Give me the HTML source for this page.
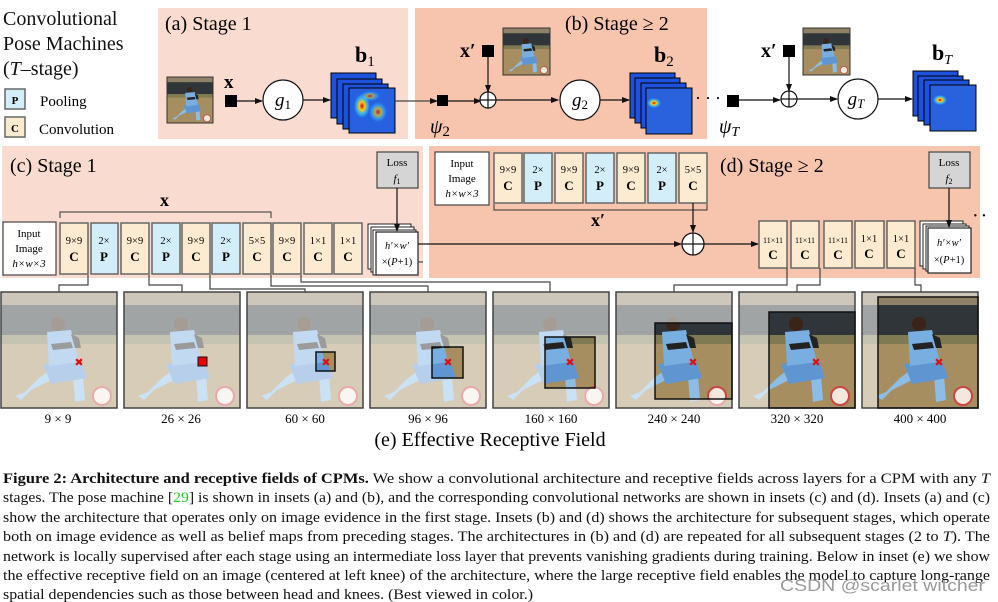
<!DOCTYPE html>
<html><head><meta charset="utf-8"><style>
html,body{margin:0;padding:0;background:#fff;}
svg{display:block;font-family:"Liberation Serif",serif;}
</style></head><body>
<svg width="998" height="602" viewBox="0 0 998 602" xmlns="http://www.w3.org/2000/svg">
<defs>
<marker id="ar" markerWidth="8" markerHeight="6" refX="7" refY="3" orient="auto" markerUnits="userSpaceOnUse"><path d="M0,0 L8,3 L0,6 z" fill="#111"/></marker>
<radialGradient id="hot" cx="0.5" cy="0.5" r="0.5"><stop offset="0" stop-color="#d00"/><stop offset="0.35" stop-color="#fc0"/><stop offset="0.7" stop-color="#3cf" stop-opacity="0.7"/><stop offset="1" stop-color="#3cf" stop-opacity="0"/></radialGradient>
<symbol id="photo" viewBox="0 0 116 116">
<rect width="116" height="116" fill="#a68e60"/>
<rect width="116" height="13" fill="#8f8068"/>
<rect y="13" width="116" height="30" fill="#2f3539"/>
<rect y="43" width="116" height="9" fill="#7f7a52"/>
<polygon points="20,108 30,98 50,88 46,80 38,86 24,100 14,104" fill="#8cbde6"/>
<polygon points="72,84 82,84 84,108 74,110" fill="#8cbde6"/>
<polygon points="42,72 80,68 86,86 50,92" fill="#5f96d2"/>
<polygon points="46,40 70,38 78,70 48,74" fill="#79aee0"/>
<polygon points="50,52 70,50 72,56 52,58" fill="#222"/>
<polygon points="70,42 78,46 80,56 74,56" fill="#222"/>
<circle cx="57" cy="32" r="7" fill="#3a2418"/>
<circle cx="101" cy="104" r="9" fill="#f2e8de" stroke="#c44" stroke-width="2"/>
</symbol>
<symbol id="thumb" viewBox="0 0 116 116"><use href="#photo" width="116" height="116"/></symbol>
</defs>

<!-- top legend -->
<g font-size="20" fill="#111">
<text x="3" y="25">Convolutional</text>
<text x="3" y="50">Pose Machines</text>
<text x="3" y="75">(<tspan font-style="italic">T</tspan>–stage)</text>
</g>
<rect x="5" y="89" width="20" height="20" fill="#d3eef9" stroke="#666" stroke-width="1.5"/>
<text x="15" y="104" font-size="11" font-weight="bold" text-anchor="middle">P</text>
<text x="40" y="106" font-size="15">Pooling</text>
<rect x="5" y="117" width="20" height="20" fill="#fcebd0" stroke="#666" stroke-width="1.5"/>
<text x="15" y="132" font-size="11" font-weight="bold" text-anchor="middle">C</text>
<text x="39" y="134" font-size="15">Convolution</text>

<!-- panels a,b -->
<rect x="158" y="8" width="250" height="131" fill="#f9dccf"/>
<rect x="415" y="8" width="292" height="131" fill="#f7c4ae"/>
<text x="165" y="30" font-size="20">(a) Stage 1</text>
<text x="565" y="30" font-size="20">(b) Stage ≥ 2</text>

<use href="#photo" x="167" y="77" width="46" height="46"/>
<rect x="167" y="77" width="46" height="46" fill="none" stroke="#333"/>
<text x="224" y="88" font-size="19" font-weight="bold">x</text>
<rect x="225" y="95" width="12" height="12" fill="#000"/>
<line x1="237" y1="101" x2="262" y2="101" stroke="#111" stroke-width="1.2" marker-end="url(#ar)"/>
<circle cx="283" cy="100" r="20" fill="#fff" stroke="#111" stroke-width="1.2"/>
<text x="283" y="106" font-size="19" font-style="italic" text-anchor="middle">g<tspan font-size="13" font-style="normal" dy="3">1</tspan></text>
<line x1="303" y1="100" x2="330" y2="100" stroke="#111" stroke-width="1.2" marker-end="url(#ar)"/>
<g stroke="#000" stroke-width="1">
<rect x="331" y="73" width="45" height="45" fill="#1f52dc"/>
<rect x="337" y="79" width="45" height="45" fill="#1f52dc"/>
<rect x="343" y="84" width="45" height="45" fill="#1f52dc"/>
<rect x="349" y="88" width="46" height="45" fill="#2760e0"/>
</g>
<ellipse cx="362" cy="106" rx="8" ry="12" fill="url(#hot)"/><ellipse cx="378" cy="112" rx="9" ry="10" fill="url(#hot)" opacity="0.7"/><ellipse cx="370" cy="96" rx="10" ry="5" fill="url(#hot)" opacity="0.6"/>
<text x="355" y="62" font-size="22" font-weight="bold">b<tspan font-size="15" font-weight="normal" dy="4">1</tspan></text>
<line x1="395" y1="101" x2="437" y2="101" stroke="#444" stroke-width="1.2" marker-end="url(#ar)"/>
<rect x="437" y="95" width="11" height="11" fill="#000"/>
<text x="430" y="133" font-size="20" font-style="italic">ψ<tspan font-size="15" font-style="normal" dy="3">2</tspan></text>
<line x1="448" y1="101" x2="481" y2="101" stroke="#111" stroke-width="1.2" marker-end="url(#ar)"/>
<text x="460" y="57" font-size="20" font-weight="bold">x′</text>
<rect x="482" y="45" width="12" height="12" fill="#000"/>
<line x1="488" y1="57" x2="488" y2="92" stroke="#111" stroke-width="1.2" marker-end="url(#ar)"/>
<circle cx="488" cy="100" r="8" fill="#fff" stroke="#111" stroke-width="1.2"/>
<path d="M480,100 H496 M488,92 V108" stroke="#111" stroke-width="1.2"/>
<use href="#photo" x="503" y="28" width="47" height="47"/>
<rect x="503" y="28" width="47" height="47" fill="none" stroke="#333"/>
<line x1="496" y1="100" x2="558" y2="100" stroke="#111" stroke-width="1.2" marker-end="url(#ar)"/>
<circle cx="580" cy="100" r="20" fill="#fff" stroke="#111" stroke-width="1.2"/>
<text x="580" y="106" font-size="19" font-style="italic" text-anchor="middle">g<tspan font-size="13" font-style="normal" dy="3">2</tspan></text>
<line x1="600" y1="100" x2="629" y2="100" stroke="#111" stroke-width="1.2" marker-end="url(#ar)"/>
<g stroke="#000" stroke-width="1">
<rect x="630" y="73" width="45" height="45" fill="#1f52dc"/>
<rect x="635" y="78" width="45" height="45" fill="#1f52dc"/>
<rect x="641" y="83" width="45" height="45" fill="#1f52dc"/>
<rect x="646" y="88" width="46" height="46" fill="#2a62de"/>
</g>
<ellipse cx="654" cy="103" rx="7" ry="5" fill="url(#hot)"/>
<text x="654" y="62" font-size="22" font-weight="bold">b<tspan font-size="15" font-weight="normal" dy="4">2</tspan></text>
<text x="695" y="104" font-size="18" letter-spacing="4">···</text>
<rect x="727" y="95" width="12" height="12" fill="#000"/>
<text x="719" y="133" font-size="20" font-style="italic">ψ<tspan font-size="14" dy="3">T</tspan></text>
<line x1="739" y1="100" x2="780" y2="100" stroke="#111" stroke-width="1.2" marker-end="url(#ar)"/>
<text x="761" y="57" font-size="20" font-weight="bold">x′</text>
<rect x="783" y="45" width="12" height="12" fill="#000"/>
<line x1="789" y1="57" x2="789" y2="91" stroke="#111" stroke-width="1.2" marker-end="url(#ar)"/>
<circle cx="789" cy="99" r="8" fill="#fff" stroke="#111" stroke-width="1.2"/>
<path d="M781,99 H797 M789,91 V107" stroke="#111" stroke-width="1.2"/>
<use href="#photo" x="803" y="28" width="47" height="47"/>
<rect x="803" y="28" width="47" height="47" fill="none" stroke="#333"/>
<line x1="797" y1="99" x2="837" y2="99" stroke="#111" stroke-width="1.2" marker-end="url(#ar)"/>
<circle cx="858" cy="99" r="20" fill="#fff" stroke="#111" stroke-width="1.2"/>
<text x="856" y="105" font-size="19" font-style="italic" text-anchor="middle">g<tspan font-size="13" dy="3">T</tspan></text>
<line x1="878" y1="99" x2="912" y2="99" stroke="#111" stroke-width="1.2" marker-end="url(#ar)"/>
<g stroke="#000" stroke-width="1">
<rect x="913" y="71" width="45" height="45" fill="#1f52dc"/>
<rect x="918" y="76" width="45" height="45" fill="#1f52dc"/>
<rect x="924" y="80" width="45" height="45" fill="#1f52dc"/>
<rect x="930" y="85" width="46" height="46" fill="#2a62de"/>
</g>
<ellipse cx="940" cy="100" rx="7" ry="5" fill="url(#hot)"/>
<text x="932" y="60" font-size="22" font-weight="bold">b<tspan font-size="14" font-weight="normal" font-style="italic" dy="4">T</tspan></text>

<!-- panels c,d -->
<rect x="2" y="146" width="421" height="132" fill="#f9dccf"/>
<rect x="429" y="146" width="551" height="132" fill="#f7c4ae"/>
<text x="10" y="172" font-size="20">(c) Stage 1</text>
<text x="720" y="172" font-size="20">(d) Stage ≥ 2</text>

<rect x="3" y="222" width="53" height="53" fill="#fff" stroke="#444" stroke-width="1.2"/>
<g font-size="11" text-anchor="middle"><text x="29" y="237">Input</text><text x="29" y="252">Image</text><text x="29" y="267" font-style="italic">h×w×3</text></g>
<g stroke="#666" stroke-width="1.5">
<rect x="60" y="223" width="28" height="51" fill="#fcebd0"/><rect x="91" y="223" width="27" height="51" fill="#d3eef9"/>
<rect x="121" y="223" width="28" height="51" fill="#fcebd0"/><rect x="152" y="223" width="28" height="51" fill="#d3eef9"/>
<rect x="182" y="223" width="28" height="51" fill="#fcebd0"/><rect x="212" y="223" width="28" height="51" fill="#d3eef9"/>
<rect x="243" y="223" width="28" height="51" fill="#fcebd0"/><rect x="273" y="223" width="28" height="51" fill="#fcebd0"/>
<rect x="304" y="223" width="28" height="51" fill="#fcebd0"/><rect x="334" y="223" width="28" height="51" fill="#fcebd0"/>
</g>
<g font-size="10.5" text-anchor="middle">
<text x="74" y="244">9×9</text><text x="104" y="244">2×</text><text x="135" y="244">9×9</text><text x="166" y="244">2×</text><text x="196" y="244">9×9</text><text x="226" y="244">2×</text><text x="257" y="244">5×5</text><text x="287" y="244">9×9</text><text x="318" y="244">1×1</text><text x="348" y="244">1×1</text>
</g>
<g font-size="13" font-weight="bold" text-anchor="middle">
<text x="74" y="261">C</text><text x="104" y="261">P</text><text x="135" y="261">C</text><text x="166" y="261">P</text><text x="196" y="261">C</text><text x="226" y="261">P</text><text x="257" y="261">C</text><text x="287" y="261">C</text><text x="318" y="261">C</text><text x="348" y="261">C</text>
</g>
<path d="M60,218 V212 H271 V218" fill="none" stroke="#333" stroke-width="1"/>
<text x="160" y="206" font-size="18" font-weight="bold">x</text>
<g stroke="#222" fill="#fff" stroke-width="1">
<rect x="368" y="224" width="43" height="45"/><rect x="371" y="227" width="43" height="45"/><rect x="373" y="230" width="43" height="45"/>
<rect x="376" y="232" width="42" height="43" stroke-width="1.2"/>
</g>
<text x="397" y="249" font-size="10.5" font-style="italic" text-anchor="middle">h′×w′</text>
<text x="397" y="265" font-size="10.5" text-anchor="middle">×(<tspan font-style="italic">P</tspan>+1)</text>
<rect x="377" y="152" width="41" height="36" fill="#d5d5d5" stroke="#444" stroke-width="1.2"/>
<text x="397" y="166" font-size="11" text-anchor="middle">Loss</text>
<text x="397" y="182" font-size="11" font-style="italic" text-anchor="middle">f<tspan font-size="8" font-style="normal" dy="2">1</tspan></text>
<line x1="397" y1="188" x2="397" y2="231" stroke="#111" stroke-width="1.2" marker-end="url(#ar)"/>

<rect x="435" y="152" width="54" height="53" fill="#fff" stroke="#444" stroke-width="1.2"/>
<g font-size="11" text-anchor="middle"><text x="462" y="167">Input</text><text x="462" y="182">Image</text><text x="462" y="197" font-style="italic">h×w×3</text></g>
<g stroke="#666" stroke-width="1.5">
<rect x="494" y="153" width="28" height="50" fill="#fcebd0"/><rect x="524" y="153" width="28" height="50" fill="#d3eef9"/>
<rect x="555" y="153" width="28" height="50" fill="#fcebd0"/><rect x="586" y="153" width="28" height="50" fill="#d3eef9"/>
<rect x="617" y="153" width="28" height="50" fill="#fcebd0"/><rect x="648" y="153" width="28" height="50" fill="#d3eef9"/>
<rect x="679" y="153" width="28" height="50" fill="#fcebd0"/>
</g>
<g font-size="10.5" text-anchor="middle">
<text x="508" y="173">9×9</text><text x="538" y="173">2×</text><text x="569" y="173">9×9</text><text x="600" y="173">2×</text><text x="631" y="173">9×9</text><text x="662" y="173">2×</text><text x="693" y="173">5×5</text>
</g>
<g font-size="13" font-weight="bold" text-anchor="middle">
<text x="508" y="190">C</text><text x="538" y="190">P</text><text x="569" y="190">C</text><text x="600" y="190">P</text><text x="631" y="190">C</text><text x="662" y="190">P</text><text x="693" y="190">C</text>
</g>
<path d="M494,204 V210 H707 V204" fill="none" stroke="#333" stroke-width="1"/>
<text x="591" y="226" font-size="18" font-weight="bold">x′</text>
<line x1="693" y1="203" x2="693" y2="232" stroke="#111" stroke-width="1.2" marker-end="url(#ar)"/>
<line x1="418" y1="244" x2="681" y2="244" stroke="#111" stroke-width="1.2" marker-end="url(#ar)"/>
<circle cx="693" cy="244" r="11" fill="#fff" stroke="#111" stroke-width="1.3"/>
<path d="M682,244 H704 M693,233 V255" stroke="#111" stroke-width="1.2"/>
<line x1="704" y1="244" x2="758" y2="244" stroke="#111" stroke-width="1.2" marker-end="url(#ar)"/>
<g stroke="#666" stroke-width="1.5" fill="#fcebd0">
<rect x="759" y="221" width="28" height="47"/><rect x="791" y="221" width="28" height="47"/><rect x="824" y="221" width="28" height="47"/><rect x="855" y="221" width="29" height="47"/><rect x="887" y="221" width="28" height="47"/>
</g>
<g font-size="8" text-anchor="middle"><text x="773" y="243">11×11</text><text x="805" y="243">11×11</text><text x="838" y="243">11×11</text></g>
<g font-size="10.5" text-anchor="middle"><text x="869" y="242">1×1</text><text x="901" y="242">1×1</text></g>
<g font-size="13" font-weight="bold" text-anchor="middle">
<text x="773" y="259">C</text><text x="805" y="259">C</text><text x="838" y="259">C</text><text x="869" y="258">C</text><text x="901" y="258">C</text>
</g>
<g stroke="#222" fill="#fff" stroke-width="1">
<rect x="920" y="221" width="43" height="45"/><rect x="923" y="224" width="43" height="45"/><rect x="926" y="226" width="43" height="45"/>
<rect x="928" y="228" width="43" height="45" stroke-width="1.2"/>
</g>
<text x="949" y="246" font-size="10.5" font-style="italic" text-anchor="middle">h′×w′</text>
<text x="949" y="263" font-size="10.5" text-anchor="middle">×(<tspan font-style="italic">P</tspan>+1)</text>
<rect x="929" y="152" width="41" height="36" fill="#d5d5d5" stroke="#444" stroke-width="1.2"/>
<text x="949" y="166" font-size="11" text-anchor="middle">Loss</text>
<text x="949" y="182" font-size="11" font-style="italic" text-anchor="middle">f<tspan font-size="8" font-style="normal" dy="2">2</tspan></text>
<line x1="949" y1="188" x2="949" y2="227" stroke="#111" stroke-width="1.2" marker-end="url(#ar)"/>
<text x="972" y="222" font-size="20" letter-spacing="2">··</text>

<!-- connectors -->
<g fill="none" stroke="#444" stroke-width="1.2">
<path d="M88,275 V285 H59 V292"/>
<path d="M149,275 V285 H182 V292"/>
<path d="M210,275 V289 H305 V292"/>
<path d="M271,275 V286 H428 V292"/>
<path d="M301,275 V282 H550 V292"/>
<path d="M418,262 H423"/>
<path d="M787,268 V285 H674 V292"/>
<path d="M820,268 V285 H797 V292"/>
<path d="M915,268 V285 H921 V292"/>
</g>

<!-- photos -->
<g>
<use href="#photo" x="1" y="292" width="116" height="116"/><rect x="1" y="292" width="116" height="116" fill="#fff" opacity="0.55"/>
<use href="#photo" x="124" y="292" width="116" height="116"/><rect x="124" y="292" width="116" height="116" fill="#fff" opacity="0.55"/>
<use href="#photo" x="247" y="292" width="116" height="116"/><path d="M247,292h116v116h-116z M316,352v19h19v-19z" fill="#fff" fill-rule="evenodd" opacity="0.55"/>
<use href="#photo" x="370" y="292" width="116" height="116"/><path d="M370,292h116v116h-116z M432,347v31h31v-31z" fill="#fff" fill-rule="evenodd" opacity="0.55"/>
<use href="#photo" x="493" y="292" width="116" height="116"/><path d="M493,292h116v116h-116z M545,337v51h50v-51z" fill="#fff" fill-rule="evenodd" opacity="0.55"/>
<use href="#photo" x="616" y="292" width="116" height="116"/><path d="M616,292h116v116h-116z M655,323v76h77v-76z" fill="#fff" fill-rule="evenodd" opacity="0.55"/>
<use href="#photo" x="739" y="292" width="116" height="116"/><path d="M739,292h116v116h-116z M769,312v96h86v-96z" fill="#fff" fill-rule="evenodd" opacity="0.55"/>
<use href="#photo" x="862" y="292" width="116" height="116"/><path d="M862,292h116v116h-116z M878,297v111h100v-111z" fill="#fff" fill-rule="evenodd" opacity="0.55"/>
</g>
<g fill="none" stroke="#444" stroke-width="1.5">
<rect x="1" y="292" width="116" height="116"/><rect x="124" y="292" width="116" height="116"/><rect x="247" y="292" width="116" height="116"/><rect x="370" y="292" width="116" height="116"/><rect x="493" y="292" width="116" height="116"/><rect x="616" y="292" width="116" height="116"/><rect x="739" y="292" width="116" height="116"/><rect x="862" y="292" width="116" height="116"/>
</g>
<g fill="none" stroke="#111" stroke-width="1.5">
<rect x="316" y="352" width="19" height="19"/><rect x="432" y="347" width="31" height="31"/><rect x="545" y="337" width="50" height="51"/><rect x="655" y="323" width="77" height="76"/><rect x="769" y="312" width="86" height="96"/><rect x="878" y="297" width="100" height="111"/>
</g>
<rect x="198" y="357" width="9" height="9" fill="#e00" stroke="#111"/>
<g fill="#e01010" font-size="11" font-family="DejaVu Sans" text-anchor="middle">
<text x="79" y="366">✖</text><text x="326" y="366">✖</text><text x="448" y="366">✖</text><text x="570" y="366">✖</text><text x="693" y="366">✖</text><text x="816" y="366">✖</text><text x="939" y="366">✖</text>
</g>
<g font-size="13" text-anchor="middle">
<text x="58" y="423">9 × 9</text><text x="181" y="423">26 × 26</text><text x="305" y="423">60 × 60</text><text x="428" y="423">96 × 96</text><text x="551" y="423">160 × 160</text><text x="674" y="423">240 × 240</text><text x="797" y="423">320 × 320</text><text x="920" y="423">400 × 400</text>
</g>
<text x="490" y="446" font-size="20" text-anchor="middle">(e) Effective Receptive Field</text>

<!-- caption -->
<g font-size="14.5" fill="#111">
<text x="3" y="483" textLength="987" lengthAdjust="spacingAndGlyphs"><tspan font-weight="bold">Figure 2: Architecture and receptive fields of CPMs.</tspan> We show a convolutional architecture and receptive fields across layers for a CPM with any <tspan font-style="italic">T</tspan></text>
<text x="3" y="502" textLength="987" lengthAdjust="spacingAndGlyphs">stages. The pose machine [<tspan fill="#2c2">29</tspan>] is shown in insets (a) and (b), and the corresponding convolutional networks are shown in insets (c) and (d). Insets (a) and (c)</text>
<text x="3" y="522" textLength="987" lengthAdjust="spacingAndGlyphs">show the architecture that operates only on image evidence in the first stage. Insets (b) and (d) shows the architecture for subsequent stages, which operate</text>
<text x="3" y="541" textLength="987" lengthAdjust="spacingAndGlyphs">both on image evidence as well as belief maps from preceding stages. The architectures in (b) and (d) are repeated for all subsequent stages (2 to <tspan font-style="italic">T</tspan>). The</text>
<text x="3" y="561" textLength="987" lengthAdjust="spacingAndGlyphs">network is locally supervised after each stage using an intermediate loss layer that prevents vanishing gradients during training. Below in inset (e) we show</text>
<text x="3" y="580" textLength="987" lengthAdjust="spacingAndGlyphs">the effective receptive field on an image (centered at left knee) of the architecture, where the large receptive field enables the model to capture long-range</text>
<text x="3" y="599" textLength="530" lengthAdjust="spacingAndGlyphs">spatial dependencies such as those between head and knees. (Best viewed in color.)</text>
</g>
<text x="780" y="591" font-size="17" font-family="Liberation Sans, sans-serif" fill="#9a9a9a" textLength="205" lengthAdjust="spacingAndGlyphs">CSDN @scarlet witcher</text>
</svg>
</body></html>
